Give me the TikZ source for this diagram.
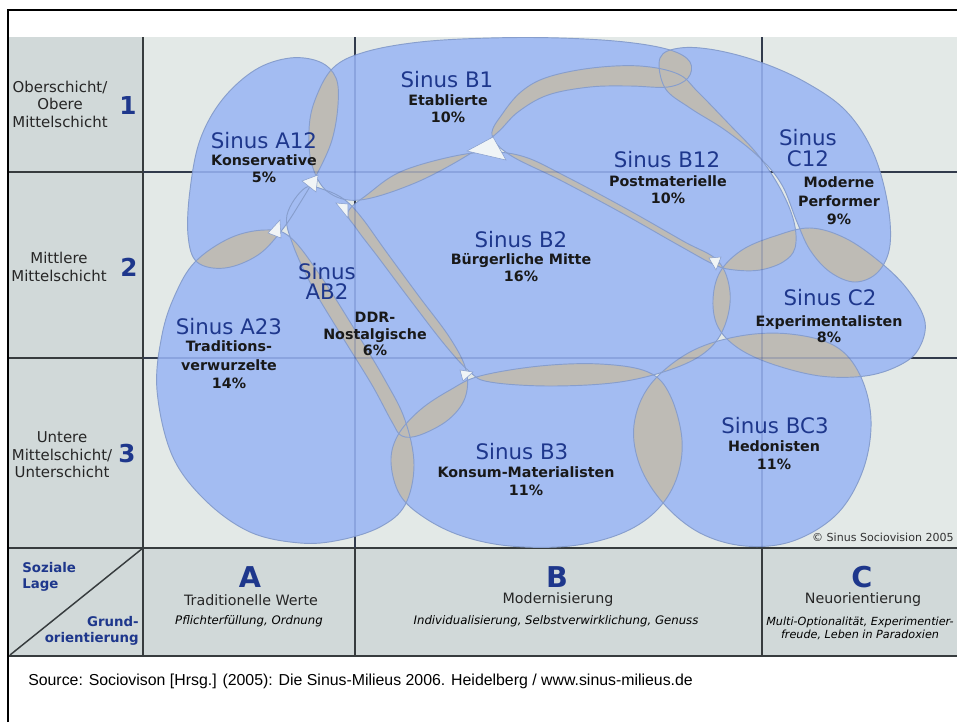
\documentclass[tikz,border=0pt]{standalone}
\usepackage{fontspec}
\setmainfont{DejaVu Sans}
\newfontfamily\capfont{Liberation Sans}
\definecolor{plotbg}{RGB}{227,233,231}
\definecolor{colbg}{RGB}{209,217,217}
\definecolor{blobblue}{RGB}{163,188,242}
\definecolor{blobedge}{RGB}{135,158,205}
\definecolor{lensgray}{RGB}{190,187,181}
\definecolor{gapfill}{RGB}{240,244,246}
\definecolor{navy}{RGB}{30,55,140}
\definecolor{gridc}{RGB}{55,60,62}
\tikzset{
 blob/.style={fill=blobblue},
 blobline/.style={draw=blobedge, line width=0.7pt},
 lensfill/.style={fill=lensgray},
 gridline/.style={draw=gridc, line width=1.1pt},
 gridthick/.style={draw=gridc, line width=1.8pt},
 gridfaint/.style={draw=navy, line width=0.8pt, opacity=0.18},
 gap/.style={fill=gapfill, draw=blobedge, line width=0.4pt},
 sinuslbl/.style={text=navy, font=\fontsize{16}{15.75}\selectfont, inner sep=0pt, align=center},
 sublbl/.style={text=black!90, font=\bfseries\fontsize{10.7}{12.75}\selectfont, align=center, inner sep=0pt},
 rowlbl/.style={text=black!85, font=\fontsize{11.2}{13.1}\selectfont, align=center, inner sep=0pt},
 digit/.style={text=navy, font=\bfseries\fontsize{18.5}{20}\selectfont, inner sep=0pt},
 collet/.style={text=navy, font=\bfseries\fontsize{21.5}{24}\selectfont, inner sep=0pt},
 colname/.style={text=black!85, font=\fontsize{10.7}{12}\selectfont, inner sep=0pt},
 colsub/.style={text=black, font=\itshape\fontsize{8.8}{9.75}\selectfont, align=center, inner sep=0pt},
 axislbl/.style={text=navy, font=\bfseries\fontsize{10}{12}\selectfont, inner sep=0pt},
}
\def\ShKons{plot[smooth cycle,tension=0.6] coordinates {(290,58) (320,62) (336,78) (338,105) (332,140) (318,172) (300,203) (282,230) (258,255) (225,268) (197,262) (188,235) (190,190) (200,140) (222,100) (255,70)}}
\def\ShTrad{plot[smooth cycle,tension=0.6] coordinates {(157,390) (162,335) (175,295) (195,262) (230,238) (265,230) (290,237) (320,275) (355,330) (385,380) (405,420) (414,465) (405,505) (380,527) (340,540) (300,543) (250,532) (205,500) (172,455)}}
\def\ShDDR{plot[smooth cycle,tension=0.6] coordinates {(305,188) (325,190) (345,200) (362,218) (385,250) (418,295) (450,338) (466,370) (465,398) (448,420) (420,435) (402,436) (392,422) (372,385) (343,338) (313,288) (293,245) (287,215)}}
\def\ShEtab{plot[smooth cycle,tension=0.6] coordinates {(315,100) (333,68) (365,52) (420,42) (490,38) (560,38) (625,42) (670,50) (690,62) (688,78) (668,87) (630,86) (590,87) (548,95) (518,112) (497,133) (468,155) (415,183) (360,200) (328,192) (312,165) (309,130)}}
\def\ShPost{plot[smooth cycle,tension=0.6] coordinates {(492,135) (503,113) (522,91) (548,77) (592,68) (640,66) (678,74) (698,92) (729,124) (758,155) (781,190) (794,222) (795,248) (783,262) (760,270) (735,270) (715,265) (680,246) (620,212) (560,180) (510,155)}}
\def\ShBuerg{plot[smooth cycle,tension=0.6] coordinates {(348,212) (368,194) (400,172) (450,157) (490,152) (525,157) (565,176) (625,208) (683,241) (718,261) (730,292) (725,325) (708,350) (675,368) (620,382) (550,386) (490,382) (470,372) (445,345) (411,301) (378,257) (356,228)}}
\def\ShPerf{plot[smooth cycle,tension=0.6] coordinates {(660,58) (680,48) (715,50) (760,62) (805,82) (845,110) (872,150) (887,200) (890,245) (878,272) (855,282) (830,272) (810,250) (797,222) (782,185) (760,158) (725,130) (690,108) (665,88)}}
\def\ShExp{plot[smooth cycle,tension=0.6] coordinates {(713,300) (720,272) (742,250) (775,236) (810,228) (845,238) (880,262) (908,290) (925,322) (918,350) (898,366) (865,376) (820,376) (772,364) (738,348) (718,327)}}
\def\ShKonsum{plot[smooth cycle,tension=0.6] coordinates {(398,435) (420,410) (450,390) (480,376) (540,366) (600,364) (648,372) (670,395) (682,440) (676,480) (655,512) (620,534) (570,546) (510,546) (462,536) (425,518) (400,495) (391,462)}}
\def\ShHed{plot[smooth cycle,tension=0.6] coordinates {(650,385) (690,352) (740,336) (790,334) (835,346) (860,375) (871,420) (863,470) (837,514) (793,541) (745,546) (700,533) (664,504) (640,466) (634,425)}}
\newcommand\lensof[2]{\begin{scope}\clip #1; \fill[lensfill] #2;\end{scope}}
\begin{document}
\begin{tikzpicture}[x=0.75pt,y=-0.75pt]
\useasboundingbox (0,0) rectangle (957,722);
\fill[white] (0,0) rectangle (957,722);
\fill[plotbg] (143,37) rectangle (957,548);
\fill[colbg] (8,37) rectangle (143,548);
\fill[colbg] (8,548) rectangle (957,656);
% grid
\draw[gridline] (8,172) -- (957,172);
\draw[gridline] (8,358) -- (957,358);
\draw[gridline] (355,37) -- (355,656);
\draw[gridline] (762,37) -- (762,656);
\draw[gridthick] (143,37) -- (143,656);
\draw[gridthick] (8,548) -- (957,548);
\draw[gridline] (8,656) -- (957,656);
\draw[gridline] (10,655) -- (143,548);
% frame
\draw[black, line width=1.5pt] (8,722) -- (8,10) -- (957,10);
% blobs
\fill[blob] \ShKons; \fill[blob] \ShTrad; \fill[blob] \ShDDR; \fill[blob] \ShEtab;
\fill[blob] \ShPost; \fill[blob] \ShBuerg; \fill[blob] \ShPerf; \fill[blob] \ShExp;
\fill[blob] \ShKonsum; \fill[blob] \ShHed;
% overlaps
\lensof{\ShKons}{\ShEtab}
\lensof{\ShKons}{\ShTrad}
\lensof{\ShTrad}{\ShDDR}
\lensof{\ShDDR}{\ShBuerg}
\lensof{\ShDDR}{\ShKonsum}
\lensof{\ShTrad}{\ShKonsum}
\lensof{\ShEtab}{\ShBuerg}
\lensof{\ShEtab}{\ShPost}
\lensof{\ShEtab}{\ShPerf}
\lensof{\ShPost}{\ShPerf}
\lensof{\ShBuerg}{\ShPost}
\lensof{\ShBuerg}{\ShExp}
\lensof{\ShPost}{\ShExp}
\lensof{\ShPerf}{\ShExp}
\lensof{\ShExp}{\ShHed}
\lensof{\ShBuerg}{\ShKonsum}
\lensof{\ShBuerg}{\ShHed}
\lensof{\ShKonsum}{\ShHed}
% outlines
\draw[blobline] \ShKons; \draw[blobline] \ShTrad; \draw[blobline] \ShDDR; \draw[blobline] \ShEtab;
\draw[blobline] \ShPost; \draw[blobline] \ShBuerg; \draw[blobline] \ShPerf; \draw[blobline] \ShExp;
\draw[blobline] \ShKonsum; \draw[blobline] \ShHed;
% faint grid through blobs
\draw[gridfaint] (355,37) -- (355,548);
\draw[gridfaint] (762,37) -- (762,548);
\draw[gridfaint] (143,172) -- (957,172);
\draw[gridfaint] (143,358) -- (957,358);
% gaps
\fill[gap] (467,151) -- (493,137) -- (506,160) -- cycle;
\fill[gap] (302,181) -- (318,175) -- (316,192) -- cycle;
\fill[gap] (336,203) -- (348,204) -- (348,218) -- cycle;
\fill[gap] (280,220) -- (281,238) -- (268,233) -- cycle;
\fill[gap] (460,370) -- (473,372) -- (463,381) -- cycle;
\fill[gap] (709,258) -- (721,257) -- (716,270) -- cycle;
% row labels
\node[rowlbl] (r1) at (60,104) {Oberschicht/\\Obere\\Mittelschicht};
\node[digit] (d1) at (128,106) {1};
\node[rowlbl] (r2) at (59,267) {Mittlere\\Mittelschicht};
\node[digit] (d2) at (129,267) {2};
\node[rowlbl] (r3) at (62,455) {Untere\\Mittelschicht/\\Unterschicht};
\node[digit] (d3) at (127,454) {3};
\node[axislbl, align=left, anchor=west] (soz) at (22,577) {Soziale\\Lage};
\node[axislbl, align=right, anchor=east] (grund) at (139,631) {Grund-\\orientierung};
% columns
\node[collet] (ca) at (250,577) {A};
\node[colname] (cat) at (251,600) {Traditionelle Werte};
\node[colsub] (cas) at (249,621) {Pflichterfüllung, Ordnung};
\node[collet] (cb) at (557,577) {B};
\node[colname] (cbt) at (558,600) {Modernisierung};
\node[colsub] (cbs) at (556,621) {Individualisierung, Selbstverwirklichung, Genuss};
\node[collet] (cc) at (862,577) {C};
\node[colname] (cct) at (863,600) {Neuorientierung};
\node[colsub, font=\itshape\fontsize{8.4}{9.75}\selectfont] (ccs) at (860,628) {Multi-Optionalität, Experimentier-\\freude, Leben in Paradoxien};
% milieu labels
\node[sinuslbl] (lb1) at (447,80) {Sinus B1};
\node[sublbl] (lb1s) at (448,109) {Etablierte\\10\%};
\node[sinuslbl] (la12) at (264,141) {Sinus A12};
\node[sublbl] (la12s) at (264,169) {Konservative\\5\%};
\node[sinuslbl] (lb12) at (667,160) {Sinus B12};
\node[sublbl] (lb12s) at (668,190) {Postmaterielle\\10\%};
\node[sinuslbl] (lc12) at (808,148) {Sinus\\C12};
\node[sublbl, font=\bfseries\fontsize{10.7}{13.9}\selectfont] (lc12s) at (839,201) {Moderne\\Performer\\9\%};
\node[sinuslbl] (lb2) at (521,240) {Sinus B2};
\node[sublbl] (lb2s) at (521,268) {Bürgerliche Mitte\\16\%};
\node[sinuslbl, font=\fontsize{16}{15}\selectfont] (lab2) at (327,281) {Sinus\\AB2};
\node[sublbl, font=\bfseries\fontsize{10.7}{12.4}\selectfont] (lab2s) at (375,334) {DDR-\\Nostalgische\\6\%};
\node[sinuslbl] (la23) at (229,327) {Sinus A23};
\node[sublbl, font=\bfseries\fontsize{10.7}{13.9}\selectfont] (la23s) at (229,365) {Traditions-\\verwurzelte\\14\%};
\node[sinuslbl] (lc2) at (830,298) {Sinus C2};
\node[sublbl, font=\bfseries\fontsize{10.7}{12}\selectfont] (lc2s) at (829,329) {Experimentalisten\\8\%};
\node[sinuslbl] (lb3) at (522,452) {Sinus B3};
\node[sublbl, font=\bfseries\fontsize{10.7}{13.5}\selectfont] (lb3s) at (526,481) {Konsum-Materialisten\\11\%};
\node[sinuslbl] (lbc3) at (775,426) {Sinus BC3};
\node[sublbl, font=\bfseries\fontsize{10.7}{13.5}\selectfont] (lbc3s) at (774,455) {Hedonisten\\11\%};
\node[anchor=east, font=\fontsize{8.3}{10}\selectfont, text=black!80, inner sep=0pt] (copy) at (954,537) {© Sinus Sociovision 2005};
% caption
\node[anchor=west, font=\capfont\fontsize{11.9}{14}\selectfont, inner sep=0pt] (src) at (28,681) {Source: Sociovison [Hrsg.] (2005): Die Sinus-Milieus 2006. Heidelberg / www.sinus-milieus.de};
\end{tikzpicture}
\end{document}
